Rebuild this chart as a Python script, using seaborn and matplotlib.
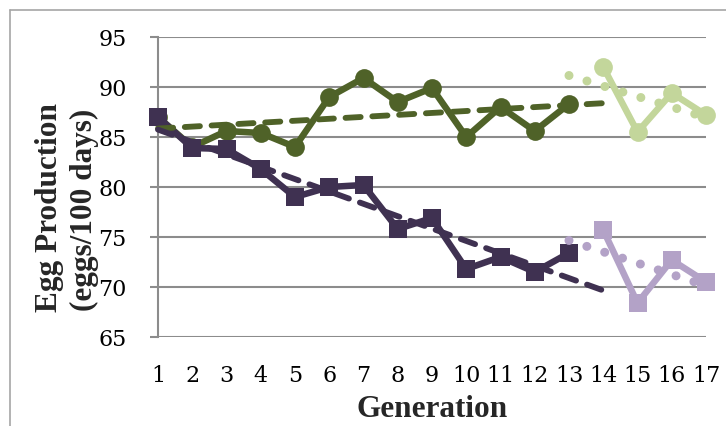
import numpy as np
import pandas as pd
import matplotlib
matplotlib.use("Agg")
import matplotlib.pyplot as plt
import seaborn as sns
from matplotlib.lines import Line2D

# ---- data ----
gen_main = [1, 2, 3, 4, 5, 6, 7, 8, 9, 10, 11, 12, 13]
gen_late = [14, 15, 16, 17]
green_main = [87.0, 84.0, 85.6, 85.4, 84.0, 89.0, 90.9, 88.5, 89.9, 85.0, 88.0, 85.6, 88.3]
green_late = [92.0, 85.5, 89.4, 87.2]
purple_main = [87.0, 83.9, 83.8, 81.8, 79.0, 80.0, 80.2, 75.8, 76.9, 71.8, 73.0, 71.5, 73.4]
purple_late = [75.7, 68.4, 72.7, 70.5]
x_ticks = list(range(1, 18))
y_ticks = [65, 70, 75, 80, 85, 90, 95]
x_label = "Generation"
y_label_1 = "Egg Production"
y_label_2 = "(eggs/100 days)"

DARK_GREEN = "#4F6228"
LIGHT_GREEN = "#C3D69B"
DARK_PURPLE = "#3F3151"
LIGHT_PURPLE = "#B3A2C7"
GRID = "#8C8C8C"

sns.set_theme(style="white")
plt.rcParams["font.family"] = ["DejaVu Serif", "DejaVu Sans"]

fig = plt.figure(figsize=(7.26, 4.26), dpi=100)
ax = fig.add_axes([158 / 726, 1 - 337 / 426, (706 - 158) / 726, 300 / 426])

# outer frame (top & left visible)
fig.add_artist(Line2D([10 / 726, 10 / 726], [0, 1 - 10 / 426], transform=fig.transFigure,
                      color="#A6A6A6", lw=1.2))
fig.add_artist(Line2D([10 / 726, 1], [1 - 10 / 426, 1 - 10 / 426], transform=fig.transFigure,
                      color="#A6A6A6", lw=1.2))

def series(x, y, color, marker, ms):
    df = pd.DataFrame({"g": x, "v": y})
    sns.lineplot(data=df, x="g", y="v", ax=ax, color=color, lw=4.7, marker=marker,
                 markersize=ms, markeredgewidth=0, markeredgecolor=color,
                 clip_on=False, zorder=3, solid_capstyle="round", solid_joinstyle="round")

def trend(x, y, color, x0, x1, dashes, lw):
    k, b = np.polyfit(x, y, 1)
    xs = np.array([x0, x1], dtype=float)
    df = pd.DataFrame({"g": xs, "v": k * xs + b})
    sns.lineplot(data=df, x="g", y="v", ax=ax, color=color, lw=lw, clip_on=False, zorder=4)
    line = ax.lines[-1]
    line.set_dashes(dashes)
    line.set_dash_capstyle("round")

series(gen_main, green_main, DARK_GREEN, "o", 13.5)
series(gen_late, green_late, LIGHT_GREEN, "o", 13.5)
series(gen_main, purple_main, DARK_PURPLE, "s", 12.5)
series(gen_late, purple_late, LIGHT_PURPLE, "s", 12.5)

trend(gen_main, green_main, DARK_GREEN, 1, 14, (2.6, 2.0), 4.2)
trend(gen_main, purple_main, DARK_PURPLE, 1, 14, (2.6, 2.0), 4.2)
trend(gen_late, green_late, LIGHT_GREEN, 13, 17, (0.001, 2.08), 6.5)
trend(gen_late, purple_late, LIGHT_PURPLE, 13, 17, (0.001, 2.08), 6.5)

ax.set_xlim(1, 17)
ax.set_ylim(65, 95)
ax.set_xticks(x_ticks)
ax.set_yticks(y_ticks)
ax.set_xticklabels([str(t) for t in x_ticks], fontsize=16)
ax.set_yticklabels([str(t) for t in y_ticks], fontsize=16)
ax.set_xlabel("")
ax.set_ylabel("")
ax.grid(axis="y", color=GRID, lw=1.5)
ax.set_axisbelow(True)
for s in ["top", "right", "bottom"]:
    ax.spines[s].set_visible(False)
ax.spines["left"].set_color(GRID)
ax.spines["left"].set_linewidth(1.5)
ax.tick_params(axis="y", which="both", left=True, length=5.5, width=1.5, color=GRID,
               pad=17, labelcolor="black")
ax.tick_params(axis="x", bottom=False, length=0, pad=20, labelcolor="black")

fig.text(432 / 726, 1 - 417 / 426, x_label, ha="center", va="baseline",
         fontsize=22.5, fontweight="bold", family="Liberation Serif")
fig.text(57 / 726, 1 - 207 / 426, y_label_1, ha="center", va="baseline", rotation=90,
         rotation_mode="anchor", fontsize=22.5, fontweight="bold", family="Liberation Serif")
fig.text(92 / 726, 1 - 210 / 426, y_label_2, ha="center", va="baseline", rotation=90,
         rotation_mode="anchor", fontsize=22.5, fontweight="bold", family="Liberation Serif")

fig.savefig("out.png", dpi=100)
